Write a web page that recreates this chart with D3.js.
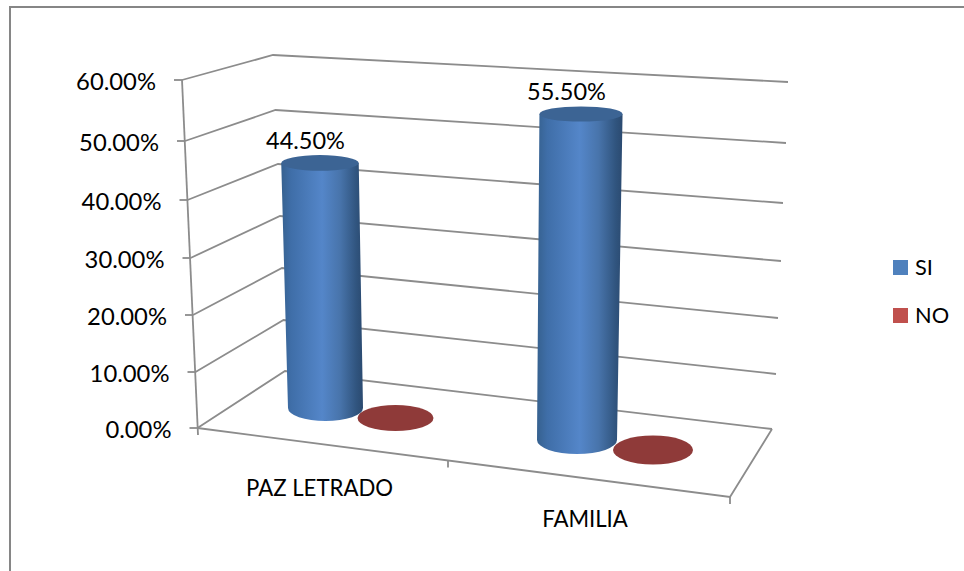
<!DOCTYPE html>
<html><head><meta charset="utf-8">
<script src="https://cdn.jsdelivr.net/npm/d3@7"></script>
<style>html,body{margin:0;padding:0;background:#fff}svg{display:block}text{font-family:Lato,"Open Sans",sans-serif;fill:#000}</style>
</head><body><svg id="c" width="964" height="571"></svg>
<script>
// ---- data ----
const categories = ["PAZ LETRADO", "FAMILIA"];
const seriesNames = ["SI", "NO"];
const siValues = [0.445, 0.555];
const noValues = [0, 0];
const tickValues = [0, 0.1, 0.2, 0.3, 0.4, 0.5, 0.6];

// ---- layout: perspective projection of the box, edge by edge ----
const W = 964, H = 571;
const edge = r => d3.scaleLinear().domain(tickValues).range(r);
const leftX  = edge([197.5,195.5,193,190.5,187.5,185,182]);
const leftY  = edge([428,372,315,258,200,141,80]);
const backX  = edge([285,283.5,282,280,278,275.5,273]);
const backY  = edge([371,320,268,216,164,110,55]);
const rightX = edge([772,776,778,781,783,786,788]);
const rightY = edge([429,374,318,261,203,143,82]);
const floorFrontX = d3.scaleLinear().domain([0,1,2]).range([198,448,730]);
const floorFrontY = d3.scaleLinear().domain([198,730]).range([428,497]);

const band = (range) => d3.scaleOrdinal().domain(categories).range(range);
const seriesLayout = {
  SI: {x: band([325.5,577]), y: band([408,440]), rx: band([37.5,40]), ry: band([13,14]), lean: band([-12.4,7.2])},
  NO: {x: band([395.5,653]), y: band([418,450]), rx: band([38,40]),   ry: band([13,14.5]), lean: band([0,0])}
};
const unitHeight = band([550.6,587.4]);
const rxGrow = 2.8, ryShrink = 11.5;
const labelDx = -14.5, labelDy = -22;

const tickFont = 23.8, dataFont = 23.5, catFont = 22.2, legendFont = 21.8;
const gridColor = "#8c8c8c";
const svg = d3.select("#c");

// gradient
const defs = svg.append("defs");
const g = defs.append("linearGradient").attr("id","blue");
[[0,"#36618f"],[0.12,"#3f6ea8"],[0.5,"#5486c9"],[0.72,"#4874ab"],[0.92,"#30547e"],[1,"#2b4a70"]]
  .forEach(s=>g.append("stop").attr("offset",s[0]).attr("stop-color",s[1]));

// outer frame
svg.append("path").attr("d",`M10,${H}V7H${W}`).attr("fill","none").attr("stroke","#868686").attr("stroke-width",2);

// gridlines and axis
const line = d3.line();
const gridG = svg.append("g").attr("fill","none").attr("stroke",gridColor).attr("stroke-width",1.8);
gridG.selectAll("path.grid").data(tickValues).join("path").attr("class","grid")
  .attr("d",v=>line([[leftX(v),leftY(v)],[backX(v),backY(v)],[rightX(v),rightY(v)]]));
gridG.append("path").attr("d",line([[leftX(0.6),leftY(0.6)],[leftX(0)+0.5,leftY(0)+7]]));
gridG.selectAll("path.tick").data(tickValues).join("path").attr("class","tick")
  .attr("d",v=>line([[leftX(v)-8,leftY(v)],[leftX(v),leftY(v)]]));
// floor
const fx2 = floorFrontX(2), fy2 = floorFrontY(fx2);
gridG.append("path").attr("d",line([[leftX(0),leftY(0)],[fx2,fy2],[rightX(0),rightY(0)]]));
gridG.selectAll("path.ctick").data([1,2]).join("path").attr("class","ctick")
  .attr("d",i=>{const x=floorFrontX(i),y=floorFrontY(x);return line([[x,y],[x,y+7]]);});

// y tick labels
svg.selectAll("text.yl").data(tickValues).join("text").attr("class","yl")
  .attr("x",v=>leftX(v)-26).attr("y",v=>leftY(v)+1.5).attr("dy","0.35em")
  .attr("text-anchor","end").attr("font-size",tickFont)
  .text(d3.format(".2%"));

// cylinders
function cylinder(sel,name,values){
  const L = seriesLayout[name];
  const red = name==="NO";
  categories.forEach((c,i)=>{
    const v = values[i];
    const bx=L.x(c), by=L.y(c), brx=L.rx(c), bry=L.ry(c);
    const tx=bx+L.lean(c)*v, ty=by-unitHeight(c)*v, trx=brx+rxGrow*v, try_=bry-ryShrink*v;
    if(v>0){
      sel.append("path").attr("fill","url(#blue)")
        .attr("d",`M${tx-trx},${ty}L${bx-brx},${by}A${brx},${bry} 0 0 0 ${bx+brx},${by}L${tx+trx},${ty}Z`);
      sel.append("ellipse").attr("cx",tx).attr("cy",ty).attr("rx",trx).attr("ry",try_).attr("fill","#3c6494");
      svg.append("text").attr("class","dl").attr("x",tx+labelDx).attr("y",ty+labelDy).attr("dy","0.35em")
        .attr("text-anchor","middle").attr("font-size",dataFont).text(d3.format(".2%")(v));
    } else {
      sel.append("ellipse").attr("cx",bx).attr("cy",by).attr("rx",brx).attr("ry",bry).attr("fill",red?"#8f3a39":"#3c6494");
    }
  });
}
const bars = svg.append("g");
cylinder(bars,"NO",noValues);
cylinder(bars,"SI",siValues);

// category labels
const catX = band([319.5,585]), catY = band([488,519]);
svg.selectAll("text.cl").data(categories).join("text").attr("class","cl")
  .attr("x",catX).attr("y",catY).attr("dy","0.35em").attr("text-anchor","middle")
  .attr("font-size",catFont).text(d=>d);

// legend
const legendY = d3.scalePoint().domain(seriesNames).range([267.5,315.5]);
const legendColor = d3.scaleOrdinal().domain(seriesNames).range(["#4f81bd","#c0504d"]);
const lg = svg.selectAll("g.lg").data(seriesNames).join("g").attr("class","lg")
  .attr("transform",d=>`translate(893,${legendY(d)})`);
lg.append("rect").attr("y",-7.5).attr("width",15).attr("height",15).attr("fill",legendColor);
lg.append("text").attr("x",22).attr("dy","0.35em").attr("font-size",legendFont).text(d=>d);
</script></body></html>
